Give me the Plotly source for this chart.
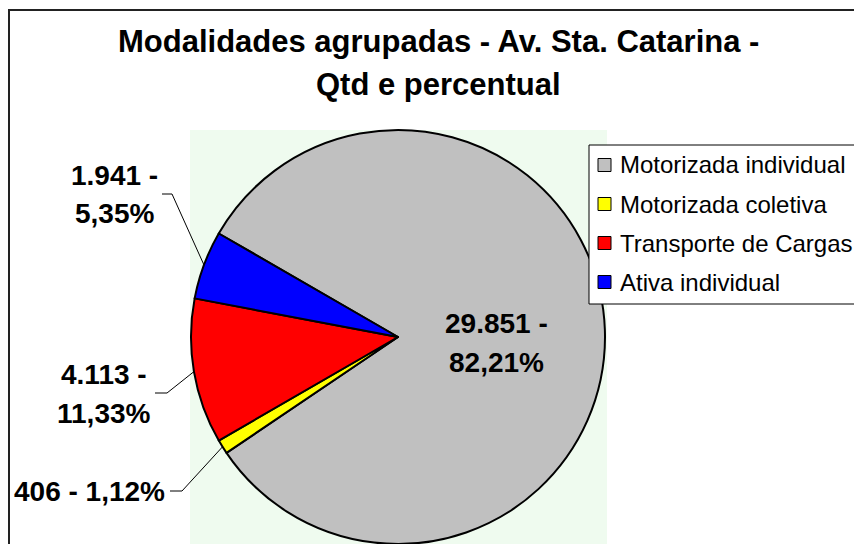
import math
import plotly.graph_objects as go

# ---------------- data ----------------
categories = ["Motorizada individual", "Motorizada coletiva", "Transporte de Cargas", "Ativa individual"]
values = [29851, 406, 4113, 1941]
colors = ["#C0C0C0", "#FFFF00", "#FF0000", "#0000FF"]
title_lines = ["Modalidades agrupadas - Av. Sta. Catarina -", "Qtd e percentual"]

# ---------------- layout helpers ----------------
W, H = 854, 544
CX, CY, R = 398, 337, 207    # pie centre / radius in pixels
ROT = -60
FONT = "Liberation Sans, Arial, sans-serif"


def px(x):
    return x / W


def py(y):
    return 1 - y / H


total = sum(values)


def fmt_qty(v):
    return f"{v:,}".replace(",", ".")


def fmt_pct(v):
    return f"{100 * v / total:.2f}".replace(".", ",") + "%"


# label placement per slice: (center x, first line y, two lines?, leader (start x, y, elbow x) or None)
placement = {
    "Motorizada individual": (496, 323, True, None),
    "Motorizada coletiva": (89, 491, False, (170, 491, 182)),
    "Transporte de Cargas": (104, 374, True, (155, 393, 167)),
    "Ativa individual": (114, 175, True, (162, 194, 172)),
}

fig = go.Figure(
    go.Pie(
        labels=categories,
        values=values,
        sort=False,
        direction="clockwise",
        rotation=ROT,
        marker=dict(colors=colors, line=dict(color="black", width=2)),
        textinfo="none",
        hoverinfo="label+value+percent",
        domain=dict(x=[px(CX - R), px(CX + R)], y=[max(0, py(CY + R)), py(CY - R)]),
        showlegend=False,
    )
)

shapes = []
annotations = []

# plot-area pattern background
shapes.append(dict(type="rect", xref="paper", yref="paper", x0=px(190), x1=px(607), y0=py(580), y1=py(130),
                   fillcolor="#effbef", line=dict(width=0), layer="below"))

# data labels and leader lines
cum = 0
for cat, v in zip(categories, values):
    mid = math.radians(ROT + 360 * (cum + v / 2) / total)
    cum += v
    x, y, two, leader = placement[cat]
    q, p = fmt_qty(v), fmt_pct(v)
    lines = [q + " -", p] if two else [q + " - " + p]
    for i, t in enumerate(lines):
        annotations.append(dict(x=px(x), y=py(y + 39 * i), xref="paper", yref="paper", text="<b>" + t + "</b>",
                                showarrow=False, xanchor="center", yanchor="middle",
                                font=dict(family=FONT, size=28, color="black")))
    if leader:
        sx, sy, ex = leader
        edx = CX + R * math.sin(mid)
        edy = CY - R * math.cos(mid)
        path = f"M {px(sx)} {py(sy)} L {px(ex)} {py(sy)} L {px(edx)} {py(edy)}"
        shapes.append(dict(type="path", xref="paper", yref="paper", path=path,
                           line=dict(color="black", width=1), layer="above"))

# legend box (custom)
shapes.append(dict(type="rect", xref="paper", yref="paper", x0=px(589), x1=px(900), y0=py(304), y1=py(145),
                   fillcolor="white", line=dict(color="black", width=1), layer="above"))
row_y = [165, 204, 243, 282]
for cat, col, ry in zip(categories, colors, row_y):
    shapes.append(dict(type="rect", xref="paper", yref="paper", x0=px(598), x1=px(611),
                       y0=py(ry + 6.5), y1=py(ry - 6.5), fillcolor=col,
                       line=dict(color="black", width=1), layer="above"))
    annotations.append(dict(x=px(618), y=py(ry), xref="paper", yref="paper", text=cat, showarrow=False,
                            xanchor="left", yanchor="middle", font=dict(family=FONT, size=24, color="black")))

# title
for i, t in enumerate(title_lines):
    annotations.append(dict(x=px(438), y=py(42 + 42 * i), xref="paper", yref="paper", text="<b>" + t + "</b>",
                            showarrow=False, xanchor="center", yanchor="middle",
                            font=dict(family=FONT, size=31, color="black")))

# chart border
shapes.append(dict(type="rect", xref="paper", yref="paper", x0=px(9), x1=px(920), y0=py(620), y1=py(10),
                   fillcolor="rgba(0,0,0,0)", line=dict(color="#222222", width=2), layer="above"))

fig.update_layout(
    width=W,
    height=H,
    margin=dict(l=0, r=0, t=0, b=0),
    paper_bgcolor="white",
    plot_bgcolor="white",
    shapes=shapes,
    annotations=annotations,
    showlegend=False,
)

fig.write_html("out.html",
               config={"displayModeBar": False},
               post_script="document.body.style.margin='0';document.body.style.overflow='hidden';")
